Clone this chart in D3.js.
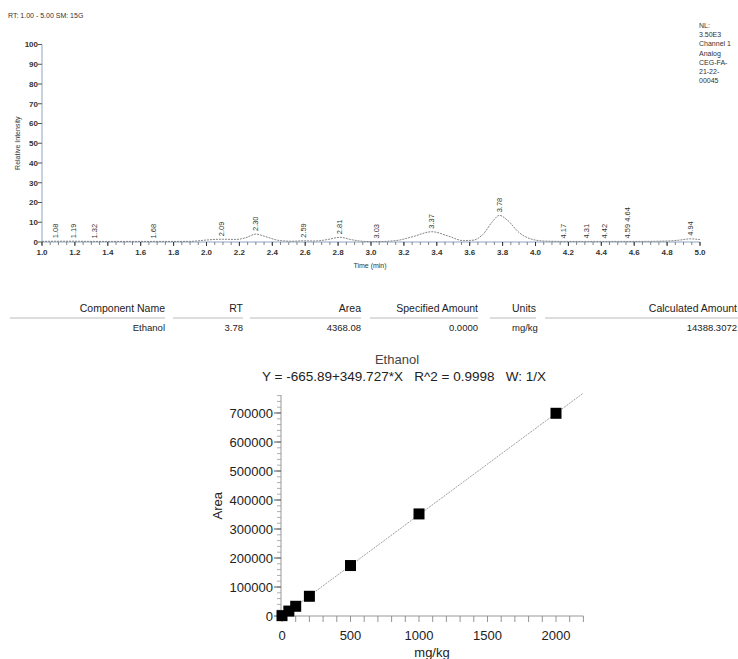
<!DOCTYPE html>
<html>
<head>
<meta charset="utf-8">
<script src="https://cdn.jsdelivr.net/npm/d3@7"></script>
<style>
  body { margin: 0; background: #fff; }
  svg { font-family: "Liberation Sans", Arial, sans-serif; }
</style>
</head>
<body>
<div id="chart"></div>
<script>
// chromatogram trace (time in min, relative intensity %)
const traceTime = [1.00, 1.08, 1.19, 1.32, 1.50, 1.68, 1.90, 1.95, 2.00, 2.09, 2.18, 2.24, 2.30, 2.36, 2.44, 2.52,
    2.59, 2.66, 2.74, 2.81, 2.88, 2.96, 3.03, 3.15, 3.25, 3.37, 3.47, 3.56, 3.62, 3.68, 3.74, 3.78, 3.83, 3.90,
    3.97, 4.05, 4.17, 4.31, 4.42, 4.59, 4.64, 4.80, 4.88, 4.94, 5.00];
const traceInt = [0.3, 0.4, 0.4, 0.3, 0.3, 0.3, 0.3, 0.6, 1.0, 1.4, 1.3, 2.2, 4.0, 2.7, 0.8, 0.4,
    0.6, 0.5, 1.3, 2.4, 1.2, 0.3, 0.2, 0.7, 2.6, 5.2, 3.0, 0.7, 0.9, 3.8, 10.5, 13.5, 11.0, 4.8,
    1.6, 0.5, 0.3, 0.3, 0.3, 0.3, 0.3, 0.5, 1.0, 1.6, 1.2];
const peakRT = [1.08, 1.19, 1.32, 1.68, 2.09, 2.30, 2.59, 2.81, 3.03, 3.37, 3.78, 4.17, 4.31, 4.42, 4.56, 4.94];
const peakTop = [0.4, 0.4, 0.3, 0.3, 1.4, 4.0, 0.6, 2.4, 0.2, 5.2, 13.5, 0.3, 0.3, 0.3, 0.3, 1.6];
const peakLabel = ["1.08", "1.19", "1.32", "1.68", "2.09", "2.30", "2.59", "2.81", "3.03", "3.37", "3.78",
    "4.17", "4.31", "4.42", "4.59 4.64", "4.94"];
const chromYTicks = [0, 10, 20, 30, 40, 50, 60, 70, 80, 90, 100];
const chromXTicks = [1.0, 1.2, 1.4, 1.6, 1.8, 2.0, 2.2, 2.4, 2.6, 2.8, 3.0, 3.2, 3.4, 3.6, 3.8, 4.0, 4.2, 4.4, 4.6, 4.8, 5.0];
const infoLines = ["NL:", "3.50E3", "Channel 1", "Analog", "CEG-FA-", "21-22-", "00045"];

// results table
const tableHeaders = ["Component Name", "RT", "Area", "Specified Amount", "Units", "Calculated Amount"];
const tableRow = ["Ethanol", "3.78", "4368.08", "0.0000", "mg/kg", "14388.3072"];

// calibration curve
const calConc = [0, 50, 100, 200, 500, 1000, 2000];
const calArea = [1200, 17000, 33500, 68000, 174000, 352000, 699000];
const fitIntercept = -665.89;
const fitSlope = 349.727;
const fitRange = [0, 2200];
const calXTicks = [0, 500, 1000, 1500, 2000];
const calYTicks = [0, 100000, 200000, 300000, 400000, 500000, 600000, 700000];

const W = 738, H = 659;
const svg = d3.select('#chart').append('svg')
    .attr('width', W)
    .attr('height', H);

// ---------- chromatogram ----------
const cx = d3.scaleLinear().domain([1, 5]).range([42, 700]);
const cy = d3.scaleLinear().domain([0, 100]).range([242, 44.5]);

svg.append('text')
    .attr('x', 8).attr('y', 18)
    .attr('font-size', 7).attr('fill', '#333')
    .text('RT: 1.00 - 5.00  SM: 15G');

svg.selectAll('.info')
    .data(infoLines)
    .enter().append('text')
    .attr('x', 699)
    .attr('y', (d, i) => 28 + i * 9.2)
    .attr('font-size', 7).attr('fill', '#333')
    .text(d => d);

const axisColor = '#8fa6c4';
svg.append('line')
    .attr('x1', cx(1)).attr('x2', cx(1))
    .attr('y1', cy(100)).attr('y2', cy(0))
    .attr('stroke', axisColor);
svg.append('line')
    .attr('x1', cx(1)).attr('x2', cx(5))
    .attr('y1', cy(0)).attr('y2', cy(0))
    .attr('stroke', axisColor);

svg.selectAll('.ytick')
    .data(chromYTicks)
    .enter().append('line')
    .attr('x1', cx(1) - 4).attr('x2', cx(1))
    .attr('y1', d => cy(d)).attr('y2', d => cy(d))
    .attr('stroke', '#555');
svg.selectAll('.ylab')
    .data(chromYTicks)
    .enter().append('text')
    .attr('x', cx(1) - 4).attr('y', d => cy(d))
    .attr('dy', '0.35em')
    .attr('text-anchor', 'end')
    .attr('font-size', 8).attr('font-weight', 'bold').attr('fill', '#333')
    .text(d => d);

const minorX = d3.range(1, 5.001, 0.05);
svg.selectAll('.xminor')
    .data(minorX)
    .enter().append('line')
    .attr('x1', d => cx(d)).attr('x2', d => cx(d))
    .attr('y1', cy(0)).attr('y2', cy(0) + 3)
    .attr('stroke', '#666').attr('stroke-width', 0.8);
svg.selectAll('.xtick')
    .data(chromXTicks)
    .enter().append('line')
    .attr('x1', d => cx(d)).attr('x2', d => cx(d))
    .attr('y1', cy(0)).attr('y2', cy(0) + 4)
    .attr('stroke', '#333');
svg.selectAll('.xlab')
    .data(chromXTicks)
    .enter().append('text')
    .attr('x', d => cx(d)).attr('y', cy(0) + 13)
    .attr('text-anchor', 'middle')
    .attr('font-size', 8).attr('font-weight', 'bold').attr('fill', '#333')
    .text(d => d.toFixed(1));

svg.append('text')
    .attr('x', 370).attr('y', 268)
    .attr('text-anchor', 'middle')
    .attr('font-size', 7).attr('fill', '#333')
    .text('Time (min)');
svg.append('text')
    .attr('transform', `translate(20, ${cy(50)}) rotate(-90)`)
    .attr('text-anchor', 'middle')
    .attr('font-size', 7).attr('fill', '#333')
    .text('Relative Intensity');

const trace = d3.line()
    .x(d => cx(d[0]))
    .y(d => cy(d[1]))
    .curve(d3.curveMonotoneX);
svg.append('path')
    .datum(d3.zip(traceTime, traceInt))
    .attr('fill', 'none')
    .attr('stroke', '#777')
    .attr('stroke-width', 0.9)
    .attr('stroke-dasharray', '2,1')
    .attr('d', trace);

svg.selectAll('.peak')
    .data(peakRT)
    .enter().append('text')
    .attr('transform', (d, i) => `translate(${cx(d)}, ${cy(peakTop[i]) - 3}) rotate(-90)`)
    .attr('dy', '0.35em')
    .attr('font-size', 7.5).attr('fill', '#333')
    .text((d, i) => peakLabel[i]);

// ---------- table ----------
const colRight = [165, 243, 361, 478, 512, 737];
const colLine = [[10, 165], [173, 243], [250, 361], [370, 478], [490, 536], [545, 738]];
svg.selectAll('.th')
    .data(tableHeaders)
    .enter().append('text')
    .attr('x', (d, i) => colRight[i])
    .attr('y', 312)
    .attr('text-anchor', (d, i) => i === 4 ? 'start' : 'end')
    .attr('font-size', 10.5).attr('fill', '#222')
    .text(d => d);
svg.selectAll('.tl')
    .data(colLine)
    .enter().append('line')
    .attr('x1', d => d[0]).attr('x2', d => d[1])
    .attr('y1', 318).attr('y2', 318)
    .attr('stroke', '#aaa').attr('stroke-width', 0.8);
svg.selectAll('.td')
    .data(tableRow)
    .enter().append('text')
    .attr('x', (d, i) => colRight[i])
    .attr('y', 331)
    .attr('text-anchor', (d, i) => i === 4 ? 'start' : 'end')
    .attr('font-size', 9.5).attr('fill', '#222')
    .text(d => d);

// ---------- calibration ----------
const kx = d3.scaleLinear().domain([0, 2000]).range([282, 556]);
const ky = d3.scaleLinear().domain([0, 700000]).range([616, 413]);

svg.append('text')
    .attr('x', 397).attr('y', 364)
    .attr('text-anchor', 'middle')
    .attr('font-size', 13).attr('fill', '#444')
    .text('Ethanol');
svg.append('text')
    .attr('x', 404).attr('y', 381)
    .attr('text-anchor', 'middle')
    .attr('font-size', 13.5).attr('fill', '#222')
    .attr('xml:space', 'preserve')
    .text('Y = -665.89+349.727*X   R^2 = 0.9998   W: 1/X');

const calAxis = '#999';
svg.append('line')
    .attr('x1', kx(0) - 1).attr('x2', kx(0) - 1)
    .attr('y1', ky(762000)).attr('y2', ky(0))
    .attr('stroke', calAxis);
svg.append('line')
    .attr('x1', kx(0) - 1).attr('x2', kx(2200))
    .attr('y1', ky(0)).attr('y2', ky(0))
    .attr('stroke', calAxis);

svg.selectAll('.kyminor')
    .data(d3.range(0, 760001, 20000))
    .enter().append('line')
    .attr('x1', kx(0) - 5).attr('x2', kx(0) - 1)
    .attr('y1', d => ky(d)).attr('y2', d => ky(d))
    .attr('stroke', '#999').attr('stroke-width', 0.8);
svg.selectAll('.kytick')
    .data(calYTicks)
    .enter().append('line')
    .attr('x1', kx(0) - 8).attr('x2', kx(0) - 1)
    .attr('y1', d => ky(d)).attr('y2', d => ky(d))
    .attr('stroke', '#555');
svg.selectAll('.kylab')
    .data(calYTicks)
    .enter().append('text')
    .attr('x', kx(0) - 9).attr('y', d => ky(d))
    .attr('dy', '0.35em')
    .attr('text-anchor', 'end')
    .attr('font-size', 13).attr('fill', '#222')
    .text(d => d);

svg.selectAll('.kxminor')
    .data(d3.range(0, 2201, 100))
    .enter().append('line')
    .attr('x1', d => kx(d)).attr('x2', d => kx(d))
    .attr('y1', ky(0)).attr('y2', ky(0) + 6)
    .attr('stroke', '#888').attr('stroke-width', 0.9);
svg.selectAll('.kxlab')
    .data(calXTicks)
    .enter().append('text')
    .attr('x', d => kx(d)).attr('y', ky(0) + 24)
    .attr('text-anchor', 'middle')
    .attr('font-size', 13).attr('fill', '#222')
    .text(d => d);

svg.append('text')
    .attr('x', 432).attr('y', 657)
    .attr('text-anchor', 'middle')
    .attr('font-size', 13).attr('fill', '#222')
    .text('mg/kg');
svg.append('text')
    .attr('transform', `translate(222, ${ky(380000)}) rotate(-90)`)
    .attr('text-anchor', 'middle')
    .attr('font-size', 13).attr('fill', '#222')
    .text('Area');

svg.append('line')
    .attr('x1', kx(fitRange[0])).attr('y1', ky(fitIntercept + fitSlope * fitRange[0]))
    .attr('x2', kx(fitRange[1])).attr('y2', ky(fitIntercept + fitSlope * fitRange[1]))
    .attr('stroke', '#888').attr('stroke-width', 0.8)
    .attr('stroke-dasharray', '2,1');

const sq = 11;
svg.selectAll('.pt')
    .data(d3.zip(calConc, calArea))
    .enter().append('rect')
    .attr('x', d => kx(d[0]) - sq / 2)
    .attr('y', d => ky(d[1]) - sq / 2)
    .attr('width', sq).attr('height', sq)
    .attr('fill', '#000');
</script>
</body>
</html>
